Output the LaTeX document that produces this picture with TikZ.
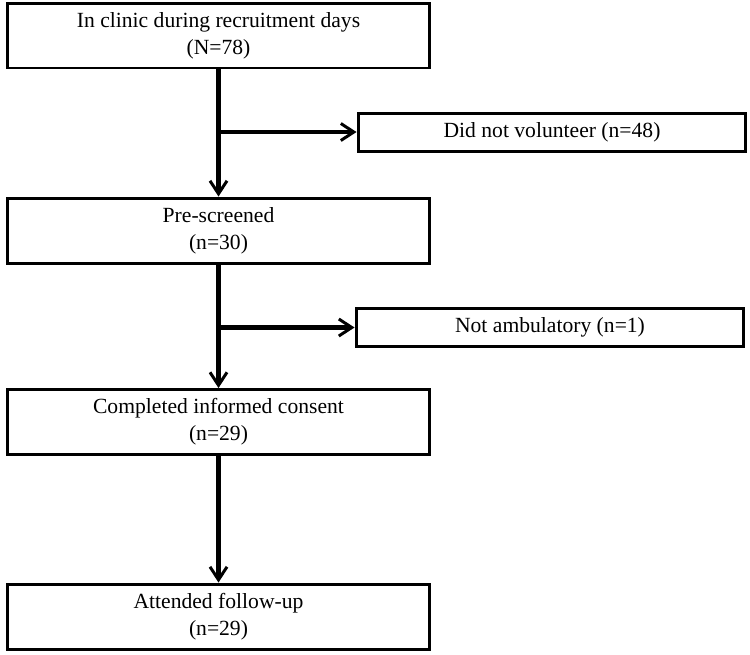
\documentclass[tikz,border=0pt]{standalone}
\usepackage{fontspec}
\setmainfont{Liberation Serif}
\usetikzlibrary{arrows.meta}
\begin{document}
\begin{tikzpicture}[
    x=0.02cm, y=-0.02cm,
    stage/.style={rectangle, draw, line width=1.7pt, minimum width=8.46cm, minimum height=1.3cm, align=center, font=\fontsize{12.3}{15.5}\selectfont, inner sep=0pt},
    excluded/.style={rectangle, draw, line width=1.7pt, minimum width=7.76cm, minimum height=0.76cm, font=\fontsize{12.3}{15.5}\selectfont, inner sep=0pt},
    arrow/.style={-{Straight Barb[length=2.6mm, width=3.4mm, line width=1.7pt]}, line width=2.6pt},
]
    \useasboundingbox (0,0) rectangle (750,654);

    % Main flow
    \node[stage] (clinic) at (218.5, 35.5) {In clinic during recruitment days\\(N=78)};
    \node[stage] (prescreen) at (218.5, 230.5) {Pre-screened\\(n=30)};
    \node[stage] (consent) at (218.5, 422) {Completed informed consent\\(n=29)};
    \node[stage] (followup) at (218.5, 616.5) {Attended follow-up\\(n=29)};

    % Excluded
    \node[excluded] (novolunteer) at (552, 132) {Did not volunteer (n=48)};
    \node[excluded] (notamb) at (550, 327.5) {Not ambulatory (n=1)};

    \draw[arrow] (clinic) -- (prescreen);
    \draw[arrow] (prescreen) -- (consent);
    \draw[arrow] (consent) -- (followup);

    \coordinate (split1) at (clinic.south |- novolunteer.west);
    \coordinate (split2) at (prescreen.south |- notamb.west);
    \draw[arrow] (split1) -- (novolunteer);
    \draw[arrow] (split2) -- (notamb);
\end{tikzpicture}
\end{document}
